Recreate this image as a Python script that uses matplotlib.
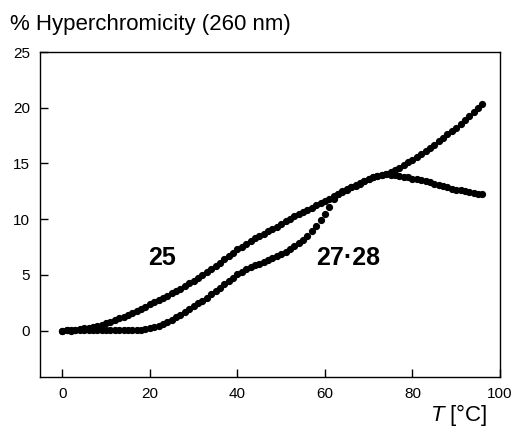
import numpy as np
import matplotlib
matplotlib.use("Agg")
import matplotlib.pyplot as plt

plt.rcParams['font.family'] = ['Liberation Sans', 'DejaVu Sans']
plt.rcParams['mathtext.fontset'] = 'custom'
plt.rcParams['mathtext.it'] = 'Liberation Sans:italic'
plt.rcParams['mathtext.rm'] = 'Liberation Sans'

# temperature (deg C), one reading per degree
temp = list(range(0, 97))

# oligo 25
hyper_25 = [0.0, 0.05, 0.1, 0.1, 0.15, 0.2, 0.25, 0.3, 0.4, 0.5,
            0.65, 0.8, 0.95, 1.1, 1.25, 1.4, 1.55, 1.75, 1.95, 2.15,
            2.35, 2.55, 2.75, 2.95, 3.15, 3.35, 3.55, 3.75, 4.0, 4.25,
            4.5, 4.75, 5.0, 5.25, 5.5, 5.8, 6.1, 6.4, 6.7, 7.0,
            7.3, 7.55, 7.8, 8.05, 8.3, 8.5, 8.7, 8.9, 9.1, 9.3,
            9.55, 9.8, 10.0, 10.25, 10.45, 10.65, 10.85, 11.05, 11.25, 11.45,
            11.65, 11.85, 12.05, 12.25, 12.45, 12.65, 12.85, 13.0, 13.2, 13.4,
            13.6, 13.75, 13.9, 14.0, 14.1, 14.2, 14.4, 14.6, 14.85, 15.1,
            15.35, 15.6, 15.85, 16.1, 16.4, 16.7, 17.0, 17.3, 17.6, 17.9,
            18.2, 18.55, 18.9, 19.25, 19.6, 19.95, 20.3]

# duplex 27.28
hyper_2728 = [0.0, 0.02, 0.0, 0.05, 0.05, 0.1, 0.1, 0.1, 0.1, 0.1,
              0.1, 0.1, 0.1, 0.1, 0.1, 0.1, 0.1, 0.1, 0.1, 0.15,
              0.2, 0.3, 0.45, 0.6, 0.8, 1.0, 1.2, 1.45, 1.7, 1.95,
              2.2, 2.45, 2.7, 2.95, 3.25, 3.55, 3.85, 4.15, 4.45, 4.75,
              5.05, 5.3, 5.5, 5.7, 5.85, 6.0, 6.15, 6.3, 6.5, 6.7,
              6.9, 7.1, 7.35, 7.6, 7.85, 8.15, 8.45, 8.9, 9.4, 9.95,
              10.5, 11.1, 11.8, 12.3, 12.5, 12.7, 12.9, 13.05, 13.25, 13.45,
              13.6, 13.8, 13.9, 14.0, 14.05, 14.0, 13.95, 13.9, 13.8, 13.75,
              13.65, 13.6, 13.5, 13.4, 13.3, 13.2, 13.05, 12.95, 12.85, 12.75,
              12.65, 12.6, 12.5, 12.45, 12.35, 12.3, 12.25]

fig = plt.figure(figsize=(5.16, 4.28), dpi=100)
ax = fig.add_axes([0.0775, 0.118, 0.8915, 0.7605])

ax.plot(temp, hyper_25, 'o', color='black', ms=4.2, mec='black')
ax.plot(temp, hyper_2728, 'o', color='black', ms=4.2, mec='black')

ax.set_xlim(-5.1, 100)
ax.set_ylim(-4.2, 25)
ax.set_xticks([0, 20, 40, 60, 80, 100])
ax.set_yticks([0, 5, 10, 15, 20, 25])
ax.tick_params(direction='in', length=6, width=1, labelsize=11, pad=7)
ax.tick_params(right=False, top=False)
for sp in ax.spines.values():
    sp.set_linewidth(1)

ax.text(19.5, 5.9, '25', fontsize=18, fontweight='bold', va='baseline')
ax.text(58.1, 5.9, '27·28', fontsize=18, fontweight='bold', va='baseline')

fig.text(0.019, 0.93, '% Hyperchromicity (260 nm)', fontsize=16, va='baseline')
fig.text(0.833, 0.016, r'$T$ [°C]', fontsize=16, va='baseline')

fig.savefig('out.png', dpi=100)
